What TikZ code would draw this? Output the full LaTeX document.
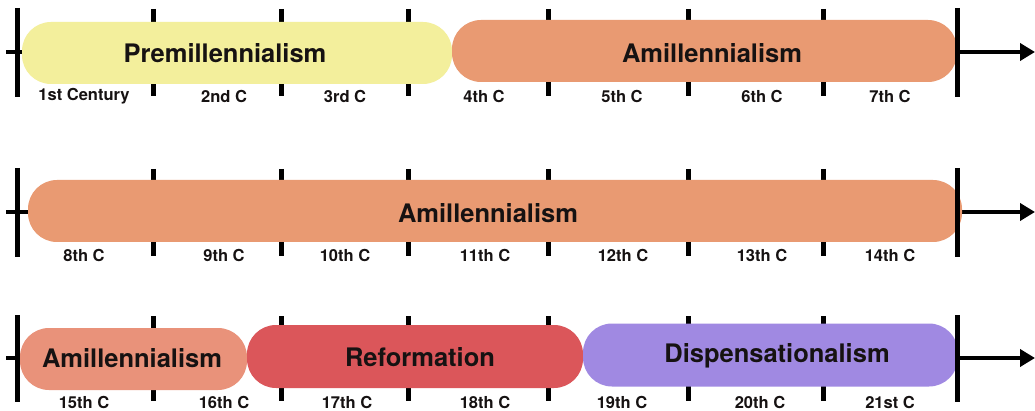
\documentclass[tikz,border=0pt]{standalone}
\usepackage{fontspec}
\setmainfont{TeX Gyre Heros}
\usetikzlibrary{arrows.meta}
\definecolor{premill}{RGB}{243,239,156}
\definecolor{amill}{RGB}{233,154,114}
\definecolor{amilltwo}{RGB}{233,146,122}
\definecolor{reform}{RGB}{219,86,90}
\definecolor{dispens}{RGB}{160,137,226}
\definecolor{ink}{RGB}{22,18,18}
\tikzset{
  pill/.style={rounded corners=29pt, inner sep=0pt, draw=none},
  pilltext/.style={font=\bfseries\fontsize{25.5}{30}\selectfont, text=ink, inner sep=0pt},
  cent/.style={font=\bfseries\fontsize{16.5}{20}\selectfont, text=ink, inner sep=0pt},
  axisline/.style={line width=4pt, -{Triangle[length=15pt,width=17pt]}},
  bigbar/.style={line width=5pt},
  tickmark/.style={line width=5pt},
}
\begin{document}
\begin{tikzpicture}[x=1pt,y=-1pt]
\useasboundingbox (0,0) rectangle (1035,411);
\fill[white] (0,0) rectangle (1035,411);
% ---------- Row 1 (axis y=52)
\coordinate (a1s) at (6,52); \coordinate (a1e) at (1035,52);
\draw[axisline] (a1s) -- (a1e);
\foreach \x in {153,281,408,548,688,823} \draw[tickmark] (\x,9) -- (\x,96);
\node[pill, fill=premill, minimum width=430pt, minimum height=62pt] (p1) at (237,53) {};
\node[pill, fill=amill, minimum width=505pt, minimum height=62pt] (a1) at (704.5,51) {};
\draw[bigbar] (17,8) -- (17,97);
\draw[bigbar] (957,8) -- (957,97);
\node[pilltext] (tp1) at (225,53) {Premillennialism};
\node[pilltext] (ta1) at (712,53) {Amillennialism};
\node[cent] at (84,96) {1st Century};
\node[cent] at (224,96) {2nd C};
\node[cent] at (345,96) {3rd C};
\node[cent] at (484,96) {4th C};
\node[cent] at (622,96) {5th C};
\node[cent] at (762,96) {6th C};
\node[cent] at (890,96) {7th C};
% ---------- Row 2 (axis y=212)
\coordinate (a2s) at (6,212); \coordinate (a2e) at (1035,212);
\draw[axisline] (a2s) -- (a2e);
\foreach \x in {153,281,408,548,688,823} \draw[tickmark] (\x,169) -- (\x,256);
\node[pill, fill=amill, minimum width=934pt, minimum height=62pt] (a2) at (495,211) {};
\draw[bigbar] (17,168) -- (17,257);
\draw[bigbar] (957,168) -- (957,257);
\node[pilltext] (ta2) at (488,213) {Amillennialism};
\node[cent] at (84,255) {8th C};
\node[cent] at (224,255) {9th C};
\node[cent] at (345,255) {10th C};
\node[cent] at (485,255) {11th C};
\node[cent] at (623,255) {12th C};
\node[cent] at (762,255) {13th C};
\node[cent] at (890,255) {14th C};
% ---------- Row 3 (axis y=358)
\coordinate (a3s) at (6,358); \coordinate (a3e) at (1035,358);
\draw[axisline] (a3s) -- (a3e);
\foreach \x in {153,281,408,548,688,823} \draw[tickmark] (\x,316) -- (\x,401);
\node[pill, fill=amilltwo, minimum width=227pt, minimum height=62pt] (a3) at (133.5,359) {};
\node[pill, fill=reform, minimum width=336pt, minimum height=63pt] (r3) at (415,356.5) {};
\node[pill, fill=dispens, minimum width=375pt, minimum height=63pt] (d3) at (770.5,355) {};
\draw[bigbar] (17,315) -- (17,402);
\draw[bigbar] (957,315) -- (957,402);
\node[pilltext] (ta3) at (132,358) {Amillennialism};
\node[pilltext] (tr3) at (420,357) {Reformation};
\node[pilltext] (td3) at (777,356) {Dispensationalism};
\node[cent] at (84,402) {15th C};
\node[cent] at (224,402) {16th C};
\node[cent] at (347,402) {17th C};
\node[cent] at (485,402) {18th C};
\node[cent] at (622,402) {19th C};
\node[cent] at (760,402) {20th C};
\node[cent] at (890,402) {21st C};
\end{tikzpicture}
\end{document}
